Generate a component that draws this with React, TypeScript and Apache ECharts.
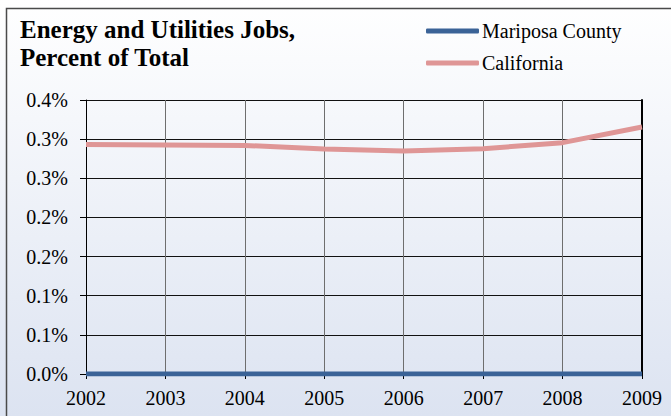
import React, { useEffect, useRef } from "react";
import * as echarts from "echarts";

const years = ["2002", "2003", "2004", "2005", "2006", "2007", "2008", "2009"];
const mariposa = [0, 0, 0, 0, 0, 0, 0, 0];
const california = [0.293, 0.2925, 0.292, 0.2875, 0.285, 0.2877, 0.2955, 0.3155];
const seriesNames = ["Mariposa County", "California"];
const titleText = "Energy and Utilities Jobs,\nPercent of Total";

const FONT = "Liberation Serif";

export default function App() {
  const ref = useRef<HTMLDivElement>(null);
  useEffect(() => {
    if (!ref.current) return;
    const chart = echarts.init(ref.current, null, { renderer: "svg" });
    chart.setOption({
      animation: false,
      backgroundColor: new echarts.graphic.LinearGradient(0, 0, 0, 1, [
        { offset: 0, color: "#ffffff" },
        { offset: 1, color: "#dce3f1" },
      ]),
      textStyle: { fontFamily: FONT },
      title: {
        text: titleText,
        left: 20,
        top: 15,
        padding: 0,
        textStyle: {
          fontFamily: FONT,
          fontSize: 25,
          fontWeight: "bold",
          color: "#000",
          lineHeight: 28,
        },
      },
      legend: {
        orient: "vertical",
        left: 426,
        top: 21,
        padding: 0,
        itemGap: 12,
        itemWidth: 53,
        itemHeight: 5,
        icon: "roundRect",
        data: seriesNames,
        textStyle: { fontFamily: FONT, fontSize: 20, color: "#000", padding: [0, 0, 0, -2] },
      },
      graphic: [
        {
          type: "rect",
          shape: { x: 6.5, y: 8.5, width: 700, height: 500 },
          style: { fill: "none", stroke: "#4a4a4a", lineWidth: 1.5 },
          silent: true,
        },
      ],
      grid: { left: 86, right: 29, top: 100, bottom: 42 },
      xAxis: {
        type: "category",
        data: years,
        boundaryGap: false,
        axisLine: { show: true, lineStyle: { color: "#000", width: 1 } },
        axisTick: { show: true, length: 5, lineStyle: { color: "#000" } },
        axisLabel: { fontFamily: FONT, fontSize: 20, color: "#000", margin: 14 },
        splitLine: { show: true, lineStyle: { color: "#6e6e6e", width: 1 } },
      },
      yAxis: [
        {
          type: "value",
          min: 0,
          max: 0.35,
          interval: 0.05,
          axisLine: { show: true, lineStyle: { color: "#000", width: 1 } },
          axisTick: { show: true, length: 6, lineStyle: { color: "#000" } },
          axisLabel: {
            fontFamily: FONT,
            fontSize: 20,
            color: "#000",
            margin: 18,
            formatter: (v: number) => (Math.round(v * 10 + 1e-6) / 10).toFixed(1) + "%",
          },
          splitLine: { show: true, lineStyle: { color: "#111", width: 1 } },
        },
        {
          type: "value",
          position: "right",
          min: 0,
          max: 0.35,
          interval: 0.05,
          axisLine: { show: true, lineStyle: { color: "#000", width: 2 } },
          axisTick: { show: false },
          axisLabel: { show: false },
          splitLine: { show: false },
        },
      ],
      series: [
        {
          name: seriesNames[1],
          type: "line",
          data: california,
          symbol: "none",
          lineStyle: { color: "#df9696", width: 5 },
          itemStyle: { color: "#df9696" },
          z: 3,
        },
        {
          name: seriesNames[0],
          type: "line",
          data: mariposa,
          symbol: "none",
          lineStyle: { color: "#3b6397", width: 5 },
          itemStyle: { color: "#3b6397" },
          z: 4,
        },
      ],
    });
    return () => chart.dispose();
  }, []);
  return (
    <div
      ref={ref}
      style={{ position: "fixed", left: 0, top: 0, width: 671, height: 416 }}
    />
  );
}
